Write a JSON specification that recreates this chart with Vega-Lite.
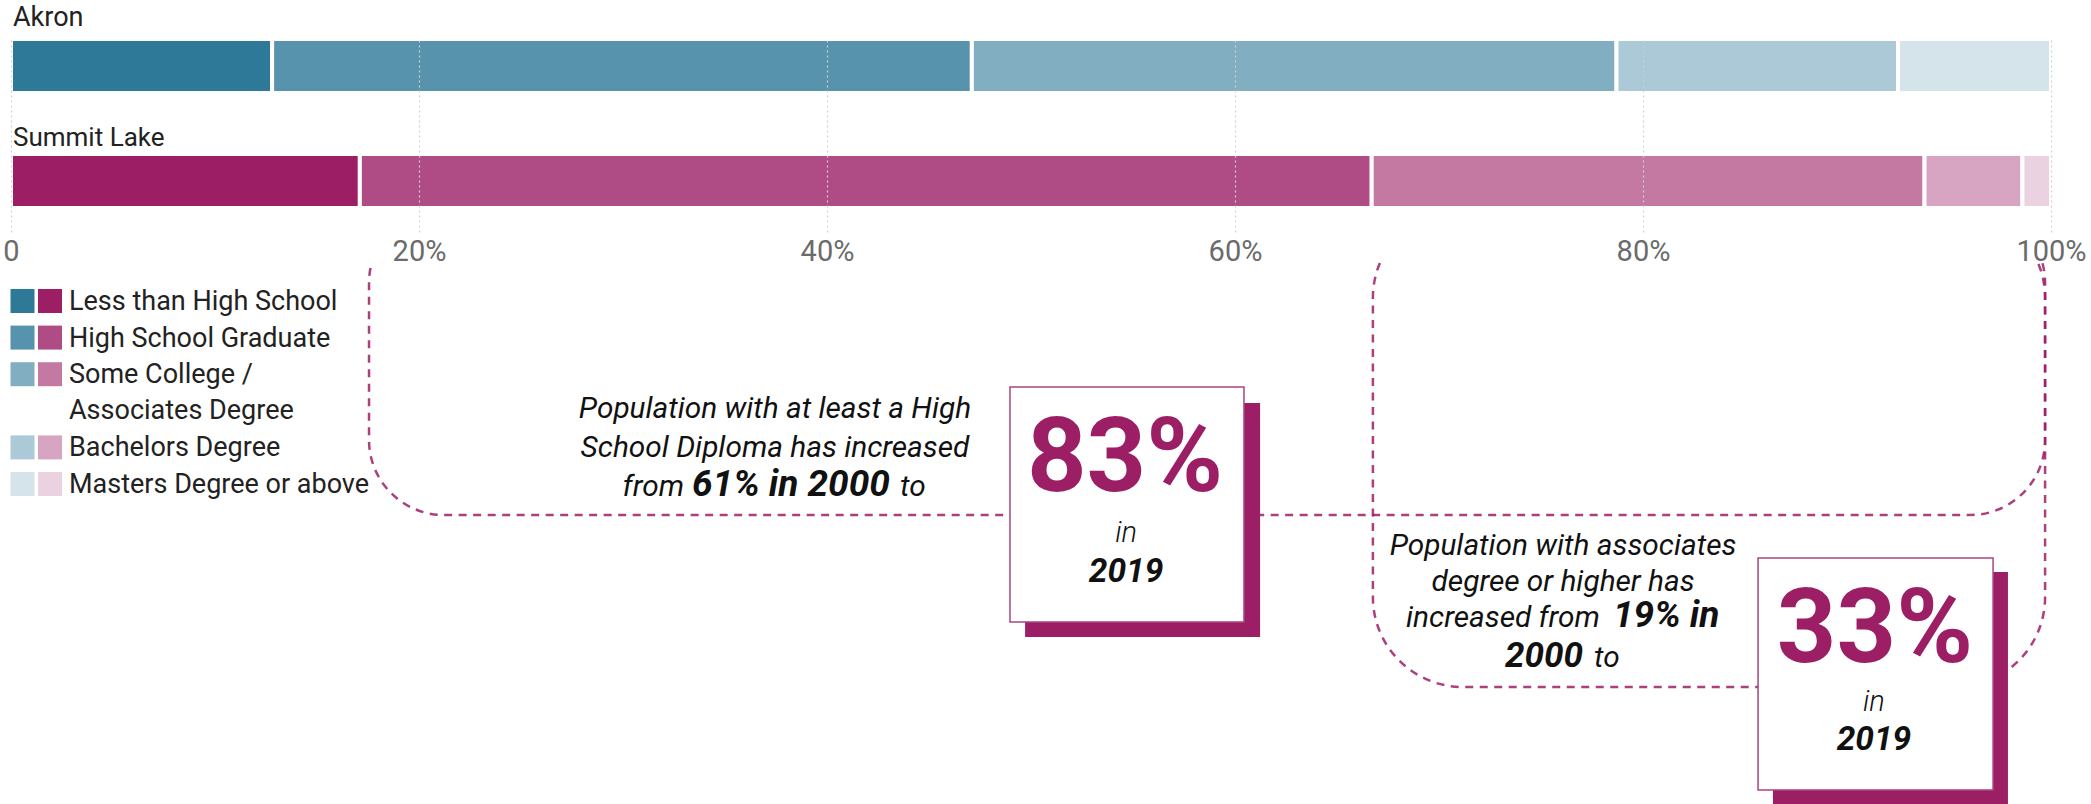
{
  "$schema": "https://vega.github.io/schema/vega-lite/v6.json",
  "padding": {"left": 2, "top": 4, "right": 0, "bottom": 0},
  "background": "white",
  "bounds": "flush",
  "spacing": 30,
  "config": {"view": {"stroke": null}, "font": "Roboto"},
  "datasets": {
    "edu": [
      {"city": "Akron", "category": "Less than High School", "level": 1, "pct": 12.8},
      {"city": "Akron", "category": "High School Graduate", "level": 2, "pct": 34.3},
      {"city": "Akron", "category": "Some College /\nAssociates Degree", "level": 3, "pct": 31.6},
      {"city": "Akron", "category": "Bachelors Degree", "level": 4, "pct": 13.8},
      {"city": "Akron", "category": "Masters Degree or above", "level": 5, "pct": 7.5},
      {"city": "Summit Lake", "category": "Less than High School", "level": 1, "pct": 17.1},
      {"city": "Summit Lake", "category": "High School Graduate", "level": 2, "pct": 49.6},
      {"city": "Summit Lake", "category": "Some College /\nAssociates Degree", "level": 3, "pct": 27.1},
      {"city": "Summit Lake", "category": "Bachelors Degree", "level": 4, "pct": 4.8},
      {"city": "Summit Lake", "category": "Masters Degree or above", "level": 5, "pct": 1.4}
    ]
  },
  "vconcat": [
    {
      "width": 2040,
      "height": 193,
      "data": {"name": "edu"},
      "layer": [
        {
          "mark": {"type": "bar", "stroke": "white", "strokeWidth": 4},
          "encoding": {
            "x": {
              "field": "pct", "type": "quantitative", "stack": "zero",
              "scale": {"domain": [0, 100], "nice": false},
              "axis": {
                "orient": "bottom", "values": [0, 20, 40, 60, 80, 100],
                "labelExpr": "datum.value == 0 ? '0' : datum.value + '%'",
                "domain": false, "ticks": false, "labelPadding": 5,
                "labelFontSize": 29, "labelColor": "#6b6b6b", "labelFlush": false,
                "grid": true, "gridDash": [2, 3], "gridColor": "#d0d0d0", "gridWidth": 1.2,
                "title": null, "zindex": 1
              }
            },
            "y": {
              "field": "city", "type": "nominal",
              "scale": {"domain": ["Akron", "Summit Lake"], "paddingInner": 0.5304, "paddingOuter": 0.104, "align": 0},
              "axis": null
            },
            "color": {"field": "city", "type": "nominal", "scale": {"domain": ["Akron", "Summit Lake"], "range": ["#2e7898", "#9c1f66"]}, "legend": null},
            "fillOpacity": {"field": "level", "type": "quantitative", "scale": {"domain": [1, 5], "range": [1, 0.2]}, "legend": null},
            "order": {"field": "level", "type": "quantitative"}
          }
        },
        {
          "transform": [{"filter": "datum.level == 1 && datum.city == 'Akron'"}],
          "mark": {"type": "text", "align": "left", "baseline": "alphabetic", "dx": 2, "dy": -40, "fontSize": 27, "color": "#222222"},
          "encoding": {
            "x": {"datum": 0, "type": "quantitative"},
            "y": {"field": "city", "type": "nominal"},
            "text": {"field": "city"}
          }
        },
        {
          "transform": [{"filter": "datum.level == 1 && datum.city == 'Summit Lake'"}],
          "mark": {"type": "text", "align": "left", "baseline": "alphabetic", "dx": 2, "dy": -35, "fontSize": 26, "color": "#222222"},
          "encoding": {
            "x": {"datum": 0, "type": "quantitative"},
            "y": {"field": "city", "type": "nominal"},
            "text": {"field": "city"}
          }
        }
      ]
    },
    {
      "width": 2040,
      "height": 542,
      "layer": [
        {
          "data": {"values": [{}]},
          "layer": [
            {
              "mark": {"type": "rect", "filled": false, "stroke": "#9c1f66", "strokeOpacity": 0.85, "strokeWidth": 2.5, "strokeDash": [8, 6.5], "cornerRadius": 75, "clip": true},
              "encoding": {
                "x": {"datum": 17.55, "type": "quantitative", "scale": {"domain": [0, 100]}, "axis": null},
                "x2": {"datum": 99.71},
                "y": {"datum": -10, "type": "quantitative", "scale": {"domain": [0, 100], "reverse": true}, "axis": null},
                "y2": {"datum": 46.68}
              }
            },
            {
              "mark": {"type": "rect", "filled": false, "stroke": "#9c1f66", "strokeOpacity": 0.85, "strokeWidth": 2.5, "strokeDash": [8, 6.5], "strokeDashOffset": 10.3, "cornerRadius": 90, "clip": true},
              "encoding": {
                "x": {"datum": 66.76, "type": "quantitative", "scale": {"domain": [0, 100]}, "axis": null},
                "x2": {"datum": 99.71},
                "y": {"datum": -10, "type": "quantitative", "scale": {"domain": [0, 100], "reverse": true}, "axis": null},
                "y2": {"datum": 78.41}
              }
            },
            {
              "mark": {"type": "rect", "fill": "#9c1f66"},
              "encoding": {
                "x": {"datum": 49.71, "type": "quantitative", "scale": {"domain": [0, 100]}, "axis": null},
                "x2": {"datum": 61.23},
                "y": {"datum": 26.01, "type": "quantitative", "scale": {"domain": [0, 100], "reverse": true}, "axis": null},
                "y2": {"datum": 69.19}
              }
            },
            {
              "mark": {"type": "rect", "fill": "#9c1f66"},
              "encoding": {
                "x": {"datum": 86.37, "type": "quantitative", "scale": {"domain": [0, 100]}, "axis": null},
                "x2": {"datum": 97.89},
                "y": {"datum": 57.2, "type": "quantitative", "scale": {"domain": [0, 100], "reverse": true}, "axis": null},
                "y2": {"datum": 100}
              }
            },
            {
              "mark": {"type": "rect", "fill": "white", "stroke": "#a8467f", "strokeWidth": 1.5},
              "encoding": {
                "x": {"datum": 48.97, "type": "quantitative", "scale": {"domain": [0, 100]}, "axis": null},
                "x2": {"datum": 60.44},
                "y": {"datum": 23.06, "type": "quantitative", "scale": {"domain": [0, 100], "reverse": true}, "axis": null},
                "y2": {"datum": 66.42}
              }
            },
            {
              "mark": {"type": "rect", "fill": "white", "stroke": "#a8467f", "strokeWidth": 1.5},
              "encoding": {
                "x": {"datum": 85.64, "type": "quantitative", "scale": {"domain": [0, 100]}, "axis": null},
                "x2": {"datum": 97.16},
                "y": {"datum": 54.61, "type": "quantitative", "scale": {"domain": [0, 100], "reverse": true}, "axis": null},
                "y2": {"datum": 97.42}
              }
            },
            {
              "mark": {"type": "text", "text": "Population with at least a High", "fontStyle": "italic", "fontSize": 29.8, "align": "center", "baseline": "alphabetic", "color": "#111111"},
              "encoding": {
                "x": {"datum": 37.45, "type": "quantitative", "axis": null},
                "y": {"datum": 28.7, "type": "quantitative", "axis": null}
              }
            },
            {
              "mark": {"type": "text", "text": "School Diploma has increased", "fontStyle": "italic", "fontSize": 29.8, "align": "center", "baseline": "alphabetic", "color": "#111111"},
              "encoding": {
                "x": {"datum": 37.45, "type": "quantitative", "axis": null},
                "y": {"datum": 35.9, "type": "quantitative", "axis": null}
              }
            },
            {
              "mark": {"type": "text", "text": "from", "fontStyle": "italic", "fontSize": 29.8, "align": "right", "baseline": "alphabetic", "color": "#111111"},
              "encoding": {
                "x": {"datum": 32.99, "type": "quantitative", "axis": null},
                "y": {"datum": 43.12, "type": "quantitative", "axis": null}
              }
            },
            {
              "mark": {"type": "text", "text": "61% in 2000", "fontStyle": "italic", "fontWeight": "bold", "fontSize": 37, "align": "left", "baseline": "alphabetic", "color": "#111111"},
              "encoding": {
                "x": {"datum": 33.38, "type": "quantitative", "axis": null},
                "y": {"datum": 43.12, "type": "quantitative", "axis": null}
              }
            },
            {
              "mark": {"type": "text", "text": "to", "fontStyle": "italic", "fontSize": 29.8, "align": "left", "baseline": "alphabetic", "color": "#111111"},
              "encoding": {
                "x": {"datum": 43.58, "type": "quantitative", "axis": null},
                "y": {"datum": 43.12, "type": "quantitative", "axis": null}
              }
            },
            {
              "mark": {"type": "text", "text": "Population with associates", "fontStyle": "italic", "fontSize": 29.8, "align": "center", "baseline": "alphabetic", "color": "#111111"},
              "encoding": {
                "x": {"datum": 76.08, "type": "quantitative", "axis": null},
                "y": {"datum": 54.06, "type": "quantitative", "axis": null}
              }
            },
            {
              "mark": {"type": "text", "text": "degree or higher has", "fontStyle": "italic", "fontSize": 29.8, "align": "center", "baseline": "alphabetic", "color": "#111111"},
              "encoding": {
                "x": {"datum": 76.08, "type": "quantitative", "axis": null},
                "y": {"datum": 60.7, "type": "quantitative", "axis": null}
              }
            },
            {
              "mark": {"type": "text", "text": "increased from", "fontStyle": "italic", "fontSize": 29.8, "align": "right", "baseline": "alphabetic", "color": "#111111"},
              "encoding": {
                "x": {"datum": 77.89, "type": "quantitative", "axis": null},
                "y": {"datum": 67.34, "type": "quantitative", "axis": null}
              }
            },
            {
              "mark": {"type": "text", "text": "19% in", "fontStyle": "italic", "fontWeight": "bold", "fontSize": 37, "align": "left", "baseline": "alphabetic", "color": "#111111"},
              "encoding": {
                "x": {"datum": 78.53, "type": "quantitative", "axis": null},
                "y": {"datum": 67.34, "type": "quantitative", "axis": null}
              }
            },
            {
              "mark": {"type": "text", "text": "2000", "fontStyle": "italic", "fontWeight": "bold", "fontSize": 35, "align": "right", "baseline": "alphabetic", "color": "#111111"},
              "encoding": {
                "x": {"datum": 77.06, "type": "quantitative", "axis": null},
                "y": {"datum": 74.7, "type": "quantitative", "axis": null}
              }
            },
            {
              "mark": {"type": "text", "text": "to", "fontStyle": "italic", "fontSize": 29.8, "align": "left", "baseline": "alphabetic", "color": "#111111"},
              "encoding": {
                "x": {"datum": 77.6, "type": "quantitative", "axis": null},
                "y": {"datum": 74.7, "type": "quantitative", "axis": null}
              }
            },
            {
              "mark": {"type": "text", "text": "83%", "fontWeight": "bold", "fontSize": 104, "align": "center", "baseline": "alphabetic", "color": "#9c1f66"},
              "encoding": {
                "x": {"datum": 54.61, "type": "quantitative", "axis": null},
                "y": {"datum": 42.25, "type": "quantitative", "axis": null}
              }
            },
            {
              "mark": {"type": "text", "text": "in", "fontStyle": "italic", "fontWeight": 300, "fontSize": 29, "align": "center", "baseline": "alphabetic", "color": "#111111"},
              "encoding": {
                "x": {"datum": 54.66, "type": "quantitative", "axis": null},
                "y": {"datum": 51.66, "type": "quantitative", "axis": null}
              }
            },
            {
              "mark": {"type": "text", "text": "2019", "fontStyle": "italic", "fontWeight": "bold", "fontSize": 33.5, "align": "center", "baseline": "alphabetic", "color": "#111111"},
              "encoding": {
                "x": {"datum": 54.66, "type": "quantitative", "axis": null},
                "y": {"datum": 59.04, "type": "quantitative", "axis": null}
              }
            },
            {
              "mark": {"type": "text", "text": "33%", "fontWeight": "bold", "fontSize": 104, "align": "center", "baseline": "alphabetic", "color": "#9c1f66"},
              "encoding": {
                "x": {"datum": 91.37, "type": "quantitative", "axis": null},
                "y": {"datum": 73.8, "type": "quantitative", "axis": null}
              }
            },
            {
              "mark": {"type": "text", "text": "in", "fontStyle": "italic", "fontWeight": 300, "fontSize": 29, "align": "center", "baseline": "alphabetic", "color": "#111111"},
              "encoding": {
                "x": {"datum": 91.32, "type": "quantitative", "axis": null},
                "y": {"datum": 82.9, "type": "quantitative", "axis": null}
              }
            },
            {
              "mark": {"type": "text", "text": "2019", "fontStyle": "italic", "fontWeight": "bold", "fontSize": 33.5, "align": "center", "baseline": "alphabetic", "color": "#111111"},
              "encoding": {
                "x": {"datum": 91.32, "type": "quantitative", "axis": null},
                "y": {"datum": 90.1, "type": "quantitative", "axis": null}
              }
            }
          ]
        },
        {
          "data": {"name": "edu"},
          "layer": [
            {
              "mark": {"type": "point", "shape": "square", "filled": true, "size": 576, "strokeWidth": 0, "opacity": 1},
              "encoding": {
                "x": {"field": "city", "type": "nominal", "scale": {"domain": ["Akron", "Summit Lake", "label"], "range": [11.5, 66.5], "padding": 0}, "axis": null},
                "y": {"field": "category", "type": "nominal", "scale": {"domain": ["Less than High School", "High School Graduate", "Some College /\nAssociates Degree", "gap", "Bachelors Degree", "Masters Degree or above"], "range": [39, 222], "padding": 0}, "axis": null},
                "color": {"field": "city", "type": "nominal", "scale": {"domain": ["Akron", "Summit Lake"], "range": ["#2e7898", "#9c1f66"]}, "legend": null},
                "fillOpacity": {"field": "level", "type": "quantitative", "scale": {"domain": [1, 5], "range": [1, 0.2]}, "legend": null}
              }
            },
            {
              "transform": [{"filter": "datum.city == 'Akron'"}],
              "mark": {"type": "text", "align": "left", "baseline": "alphabetic", "dx": -8.5, "dy": 9, "fontSize": 27, "lineBreak": "\n", "lineHeight": 36, "color": "#222222"},
              "encoding": {
                "x": {"datum": "label", "type": "nominal"},
                "y": {"field": "category", "type": "nominal"},
                "text": {"field": "category"}
              }
            }
          ]
        }
      ],
      "resolve": {"scale": {"x": "independent", "y": "independent"}}
    }
  ]
}
